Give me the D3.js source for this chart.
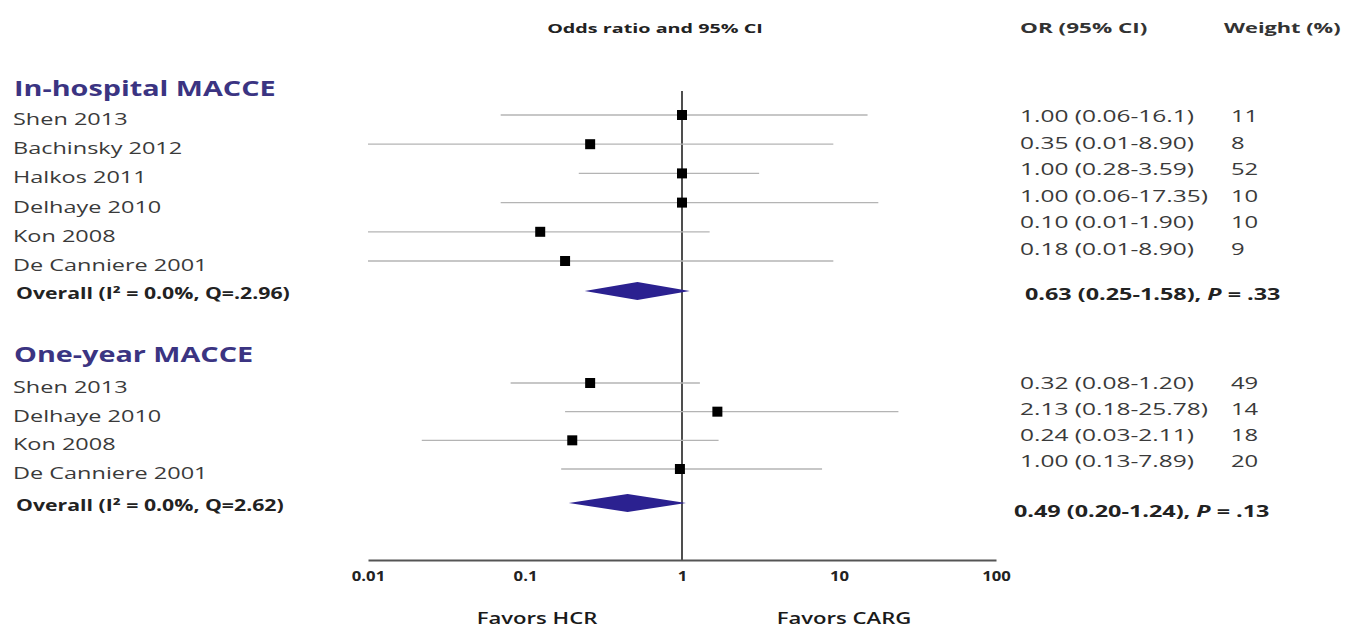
<!DOCTYPE html>
<html lang="en">
<head>
<meta charset="utf-8">
<title>Forest plot - MACCE</title>
<style type="text/css">
body { margin: 0; background: #fff; }
text { font-family: "Open Sans", "Noto Sans", sans-serif; }
.study { font-size: 17px; fill: #3a3a3a; }
.group { font-size: 21px; font-weight: bold; fill: #3b3482; }
.overall { font-size: 15.5px; font-weight: bold; fill: #222; }
.cell { font-size: 17px; fill: #3a3a3a; }
.cellBold { font-size: 16px; font-weight: bold; fill: #222; }
.head { font-size: 14.5px; font-weight: bold; fill: #333; }
.title { font-size: 12.5px; font-weight: bold; fill: #222; }
.favor { font-size: 17px; font-weight: 600; fill: #1a1a1a; }
.ci { stroke: #b4b4b4; stroke-width: 1.3; }
.est { fill: #000; }
.diamond { fill: #2b2190; }
.ref { stroke: #222; stroke-width: 1.6; }
.axis path { stroke: #555; stroke-width: 2.2; }
.axis text { font-family: "Open Sans", sans-serif; font-size: 14.5px; font-weight: bold; fill: #222; }
</style>
<script src="https://cdn.jsdelivr.net/npm/d3@7"></script>
</head>
<body>
<script type="text/javascript">
var w = 1350;
var h = 630;

// data
var groups = ["In-hospital MACCE", "One-year MACCE"];

var studies1 = ["Shen 2013", "Bachinsky 2012", "Halkos 2011", "Delhaye 2010", "Kon 2008", "De Canniere 2001"];
var est1 = [1.00, 0.26, 1.00, 1.00, 0.125, 0.18];
var lo1 = [0.07, 0.01, 0.22, 0.07, 0.01, 0.01];
var hi1 = [15.2, 9.2, 3.1, 17.8, 1.5, 9.2];
var orText1 = ["1.00 (0.06-16.1)", "0.35 (0.01-8.90)", "1.00 (0.28-3.59)", "1.00 (0.06-17.35)", "0.10 (0.01-1.90)", "0.18 (0.01-8.90)"];
var weight1 = ["11", "8", "52", "10", "10", "9"];

var studies2 = ["Shen 2013", "Delhaye 2010", "Kon 2008", "De Canniere 2001"];
var est2 = [0.26, 1.68, 0.20, 0.97];
var lo2 = [0.081, 0.18, 0.022, 0.17];
var hi2 = [1.30, 23.9, 1.71, 7.8];
var orText2 = ["0.32 (0.08-1.20)", "2.13 (0.18-25.78)", "0.24 (0.03-2.11)", "1.00 (0.13-7.89)"];
var weight2 = ["49", "14", "18", "20"];

var overallLabels = ["Overall (I\u00b2 = 0.0%, Q=.2.96)", "Overall (I\u00b2 = 0.0%, Q=2.62)"];
var overallEst = [0.52, 0.45];
var overallLo = [0.24, 0.19];
var overallHi = [1.12, 1.06];
var overallText = ["0.63 (0.25-1.58), ", "0.49 (0.20-1.24), "];
var overallP = [".33", ".13"];

var tickValues = [0.01, 0.1, 1, 10, 100];
var tickLabels = ["0.01", "0.1", "1", "10", "100"];

// row layout: 0 header, 1-6 studies, 7 overall, 9 header, 10-13 studies, 14 overall
var studyRows = [[1, 2, 3, 4, 5, 6], [10, 11, 12, 13]];
var headerRows = [0, 9];
var overallRows = [7, 14];

var svg = d3.select("body").append("svg")
            .attr("width", w)
            .attr("height", h);

var x = d3.scaleLog().domain([0.01, 100]).range([368, 996]);
var y = d3.scaleLinear()
          .domain([0, 1, 6, 7, 9, 10, 13, 14])
          .range([88, 115, 261, 291, 354, 383, 469, 503]);
var yRight = d3.scaleLinear()
          .domain([1, 6, 7, 10, 13, 14])
          .range([116, 249, 294, 383, 461, 511]);

function stretch(sel, k) {
  sel.each(function() {
    var len = this.getComputedTextLength();
    d3.select(this).attr("textLength", len * k).attr("lengthAdjust", "spacingAndGlyphs");
  });
}

var rows = [];
[[studies1, est1, lo1, hi1, orText1, weight1], [studies2, est2, lo2, hi2, orText2, weight2]].forEach(function(g, gi) {
  g[0].forEach(function(name, i) {
    rows.push({name: name, est: g[1][i], lo: g[2][i], hi: g[3][i], txt: g[4][i], wt: g[5][i], row: studyRows[gi][i]});
  });
});

// reference line at OR = 1
svg.append("line").attr("class", "ref")
   .attr("x1", x(1)).attr("x2", x(1))
   .attr("y1", 91).attr("y2", 560);

// confidence interval lines
svg.selectAll("line.ci").data(rows).enter().append("line")
   .attr("class", "ci")
   .attr("x1", function(d) { return x(d.lo); })
   .attr("x2", function(d) { return x(d.hi); })
   .attr("y1", function(d) { return y(d.row); })
   .attr("y2", function(d) { return y(d.row); });

// point estimates
svg.selectAll("rect.est").data(rows).enter().append("rect")
   .attr("class", "est")
   .attr("x", function(d) { return x(d.est) - 5; })
   .attr("y", function(d) { return y(d.row) - 5; })
   .attr("width", 10).attr("height", 10);

// pooled diamonds
svg.selectAll("path.diamond").data(overallRows).enter().append("path")
   .attr("class", "diamond")
   .attr("d", function(r, i) {
     var cy = y(r);
     return "M" + x(overallLo[i]) + "," + cy +
            "L" + x(overallEst[i]) + "," + (cy - 9) +
            "L" + x(overallHi[i]) + "," + cy +
            "L" + x(overallEst[i]) + "," + (cy + 9) + "Z";
   });

// axis
var axis = d3.axisBottom(x).tickValues(tickValues).tickSize(0).tickPadding(11)
             .tickFormat(function(d, i) { return tickLabels[i]; });
var gAxis = svg.append("g").attr("class", "axis")
   .attr("transform", "translate(0,560)")
   .call(axis);
gAxis.selectAll("text").call(stretch, 1.15);

svg.append("text").attr("class", "favor").attr("x", 537).attr("y", 624)
   .attr("text-anchor", "middle").text("Favors HCR").call(stretch, 1.3);
svg.append("text").attr("class", "favor").attr("x", 844).attr("y", 624)
   .attr("text-anchor", "middle").text("Favors CARG").call(stretch, 1.3);

// left labels
svg.selectAll("text.group").data(groups).enter().append("text")
   .attr("class", "group")
   .attr("x", 14)
   .attr("y", function(d, i) { return y(headerRows[i]) + 8; })
   .text(function(d) { return d; })
   .call(stretch, 1.37);

svg.selectAll("text.study").data(rows).enter().append("text")
   .attr("class", "study")
   .attr("x", 13)
   .attr("y", function(d) { return y(d.row) + 10; })
   .text(function(d) { return d.name; })
   .call(stretch, 1.38);

svg.selectAll("text.overall").data(overallLabels).enter().append("text")
   .attr("class", "overall")
   .attr("x", 16)
   .attr("y", function(d, i) { return y(overallRows[i]) + 8; })
   .text(function(d) { return d; })
   .call(stretch, 1.37);

// header
svg.append("text").attr("class", "title").attr("x", 655).attr("y", 33)
   .attr("text-anchor", "middle").text("Odds ratio and 95% CI").call(stretch, 1.58);
svg.append("text").attr("class", "head").attr("x", 1020).attr("y", 33)
   .text("OR (95% CI)").call(stretch, 1.55);
svg.append("text").attr("class", "head").attr("x", 1224).attr("y", 33)
   .text("Weight (%)").call(stretch, 1.5);

// right columns
svg.selectAll("text.cell").data(rows).enter().append("text")
   .attr("class", "cell")
   .attr("x", 1020)
   .attr("y", function(d) { return yRight(d.row) + 6; })
   .text(function(d) { return d.txt; })
   .call(stretch, 1.44);

svg.selectAll("text.wt").data(rows).enter().append("text")
   .attr("class", "cell wt")
   .attr("x", 1231)
   .attr("y", function(d) { return yRight(d.row) + 6; })
   .text(function(d) { return d.wt; })
   .call(stretch, 1.4);

var pooled = svg.selectAll("text.cellBold").data(overallText).enter().append("text")
   .attr("class", "cellBold")
   .attr("x", function(d, i) { return i === 0 ? 1025 : 1014; })
   .attr("y", function(d, i) { return yRight(overallRows[i]) + 6; });
pooled.append("tspan").text(function(d) { return d; });
pooled.append("tspan").attr("font-style", "italic").text("P");
pooled.append("tspan").text(function(d, i) { return " = " + overallP[i]; });
pooled.call(stretch, 1.46);
</script>
</body>
</html>
